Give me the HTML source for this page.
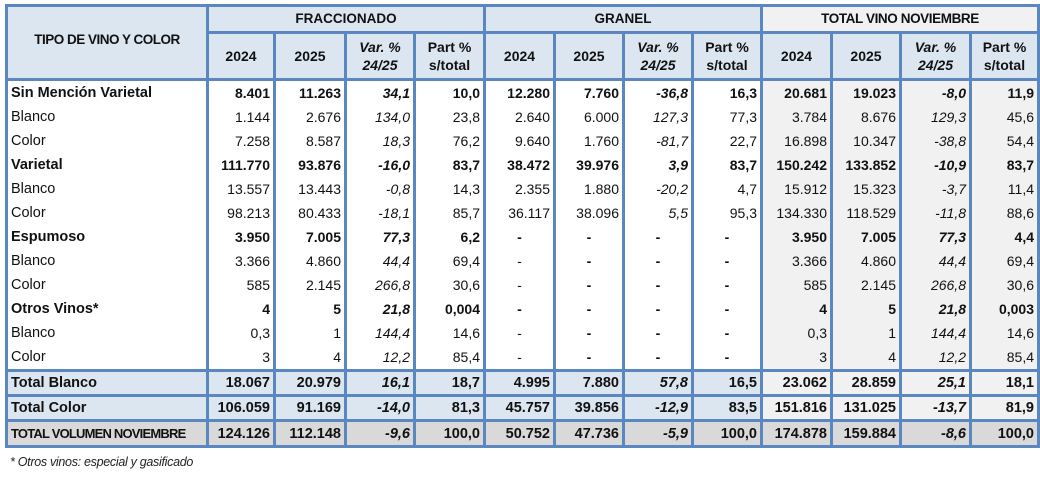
<!DOCTYPE html>
<html><head><meta charset="utf-8"><style>
body{margin:0;width:1040px;height:479px;background:#fff;font-family:"Liberation Sans",sans-serif;overflow:hidden}
table{position:absolute;left:5px;top:4px;border-collapse:collapse;table-layout:fixed;font-size:14px;color:#111}
td{padding:0 3px;white-space:nowrap;text-align:right;border-left:3px solid #5b87c0;border-right:3px solid #5b87c0;height:24px;line-height:22px}
td.l{text-align:left;font-size:14.5px}
.h td{background:#dce6f1;text-align:center;font-weight:bold;border:3px solid #5b87c0;line-height:18px}
.b td{font-weight:bold}
td.i{font-style:italic}
td.c{text-align:center}
.g{background:#f1f1f1}
.t td{background:#dce6f1;font-weight:bold;border-top:3px solid #5b87c0;border-bottom:3px solid #5b87c0;height:22px;font-size:14.5px}
.t td.g{background:#f1f1f1}
.tv td{background:#d9d9d9;font-weight:bold;border:3px solid #5b87c0;height:23px;font-size:14.5px}
.note{position:absolute;left:10px;top:455px;font-size:12.5px;font-style:italic;color:#222;letter-spacing:-0.3px}
</style></head><body>
<table>
<colgroup><col style="width:201px"><col style="width:67px"><col style="width:71px"><col style="width:69px"><col style="width:70px"><col style="width:70px"><col style="width:69px"><col style="width:69px"><col style="width:69px"><col style="width:70px"><col style="width:69px"><col style="width:70px"><col style="width:68px"></colgroup>
<tr class="h"><td rowspan="2" style="font-size:13.5px;letter-spacing:-0.5px;vertical-align:middle"><span style="position:relative;top:-3px">TIPO DE VINO Y COLOR</span></td><td colspan="4" style="height:24px;font-size:13.5px">FRACCIONADO</td><td colspan="4" style="font-size:13.5px">GRANEL</td><td colspan="4" style="background:#f1f1f1;font-size:13.5px;letter-spacing:-0.4px">TOTAL VINO NOVIEMBRE</td></tr>
<tr class="h"><td style="height:44px">2024</td><td>2025</td><td class="i">Var. %<br>24/25</td><td>Part %<br>s/total</td><td>2024</td><td>2025</td><td class="i">Var. %<br>24/25</td><td>Part %<br>s/total</td><td>2024</td><td>2025</td><td class="i">Var. %<br>24/25</td><td>Part %<br>s/total</td></tr>
<tr class="b"><td class="l">Sin Mención Varietal</td><td>8.401</td><td>11.263</td><td class="i">34,1</td><td>10,0</td><td>12.280</td><td>7.760</td><td class="i">-36,8</td><td>16,3</td><td class="g">20.681</td><td class="g">19.023</td><td class="g i">-8,0</td><td class="g">11,9</td></tr>
<tr><td class="l">Blanco</td><td>1.144</td><td>2.676</td><td class="i">134,0</td><td>23,8</td><td>2.640</td><td>6.000</td><td class="i">127,3</td><td>77,3</td><td class="g">3.784</td><td class="g">8.676</td><td class="g i">129,3</td><td class="g">45,6</td></tr>
<tr><td class="l">Color</td><td>7.258</td><td>8.587</td><td class="i">18,3</td><td>76,2</td><td>9.640</td><td>1.760</td><td class="i">-81,7</td><td>22,7</td><td class="g">16.898</td><td class="g">10.347</td><td class="g i">-38,8</td><td class="g">54,4</td></tr>
<tr class="b"><td class="l">Varietal</td><td>111.770</td><td>93.876</td><td class="i">-16,0</td><td>83,7</td><td>38.472</td><td>39.976</td><td class="i">3,9</td><td>83,7</td><td class="g">150.242</td><td class="g">133.852</td><td class="g i">-10,9</td><td class="g">83,7</td></tr>
<tr><td class="l">Blanco</td><td>13.557</td><td>13.443</td><td class="i">-0,8</td><td>14,3</td><td>2.355</td><td>1.880</td><td class="i">-20,2</td><td>4,7</td><td class="g">15.912</td><td class="g">15.323</td><td class="g i">-3,7</td><td class="g">11,4</td></tr>
<tr><td class="l">Color</td><td>98.213</td><td>80.433</td><td class="i">-18,1</td><td>85,7</td><td>36.117</td><td>38.096</td><td class="i">5,5</td><td>95,3</td><td class="g">134.330</td><td class="g">118.529</td><td class="g i">-11,8</td><td class="g">88,6</td></tr>
<tr class="b"><td class="l">Espumoso</td><td>3.950</td><td>7.005</td><td class="i">77,3</td><td>6,2</td><td class="c">-</td><td class="c">-</td><td class="c">-</td><td class="c">-</td><td class="g">3.950</td><td class="g">7.005</td><td class="g i">77,3</td><td class="g">4,4</td></tr>
<tr><td class="l">Blanco</td><td>3.366</td><td>4.860</td><td class="i">44,4</td><td>69,4</td><td class="c">-</td><td class="c"><b>-</b></td><td class="c"><b>-</b></td><td class="c"><b>-</b></td><td class="g">3.366</td><td class="g">4.860</td><td class="g i">44,4</td><td class="g">69,4</td></tr>
<tr><td class="l">Color</td><td>585</td><td>2.145</td><td class="i">266,8</td><td>30,6</td><td class="c">-</td><td class="c"><b>-</b></td><td class="c"><b>-</b></td><td class="c"><b>-</b></td><td class="g">585</td><td class="g">2.145</td><td class="g i">266,8</td><td class="g">30,6</td></tr>
<tr class="b"><td class="l">Otros Vinos*</td><td>4</td><td>5</td><td class="i">21,8</td><td>0,004</td><td class="c">-</td><td class="c">-</td><td class="c">-</td><td class="c">-</td><td class="g">4</td><td class="g">5</td><td class="g i">21,8</td><td class="g">0,003</td></tr>
<tr><td class="l">Blanco</td><td>0,3</td><td>1</td><td class="i">144,4</td><td>14,6</td><td class="c">-</td><td class="c"><b>-</b></td><td class="c"><b>-</b></td><td class="c"><b>-</b></td><td class="g">0,3</td><td class="g">1</td><td class="g i">144,4</td><td class="g">14,6</td></tr>
<tr><td class="l" style="height:20px;line-height:18px">Color</td><td>3</td><td>4</td><td class="i">12,2</td><td>85,4</td><td class="c">-</td><td class="c"><b>-</b></td><td class="c"><b>-</b></td><td class="c"><b>-</b></td><td class="g">3</td><td class="g">4</td><td class="g i">12,2</td><td class="g">85,4</td></tr>
<tr class="t"><td class="l">Total Blanco</td><td>18.067</td><td>20.979</td><td class="i">16,1</td><td>18,7</td><td>4.995</td><td>7.880</td><td class="i">57,8</td><td>16,5</td><td class="g">23.062</td><td class="g">28.859</td><td class="g i">25,1</td><td class="g">18,1</td></tr>
<tr class="t"><td class="l">Total Color</td><td>106.059</td><td>91.169</td><td class="i">-14,0</td><td>81,3</td><td>45.757</td><td>39.856</td><td class="i">-12,9</td><td>83,5</td><td class="g">151.816</td><td class="g">131.025</td><td class="g i">-13,7</td><td class="g">81,9</td></tr>
<tr class="tv"><td class="l" style="font-size:13px;letter-spacing:-0.8px">TOTAL VOLUMEN NOVIEMBRE</td><td>124.126</td><td>112.148</td><td class="i">-9,6</td><td>100,0</td><td>50.752</td><td>47.736</td><td class="i">-5,9</td><td>100,0</td><td>174.878</td><td>159.884</td><td class="i">-8,6</td><td>100,0</td></tr>
</table>
<div class="note">* Otros vinos: especial y gasificado</div>
</body></html>
